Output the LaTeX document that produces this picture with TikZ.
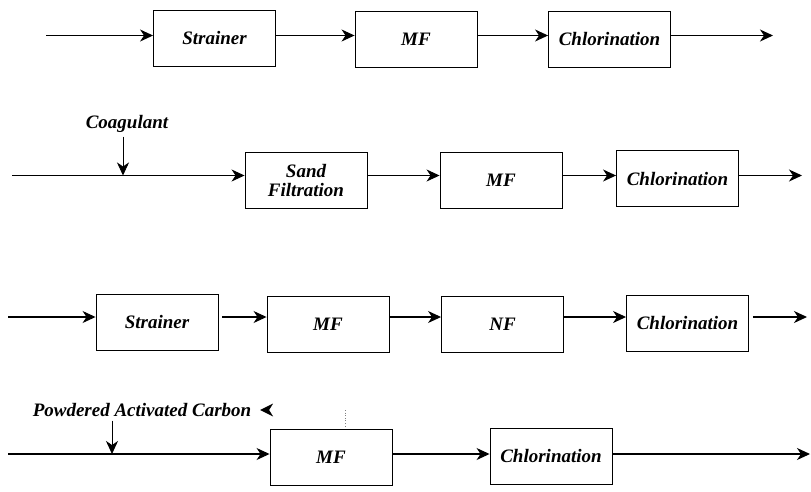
\documentclass[tikz,border=0pt]{standalone}
\usepackage{fontspec}
\setmainfont{Liberation Serif}[BoldItalicFont={Liberation Serif Bold Italic}]
\usetikzlibrary{arrows.meta}
\begin{document}
\begin{tikzpicture}[x=1pt,y=-1pt,>={Stealth[length=13pt,width=12pt,inset=4pt]},line width=1.1pt,
 font=\fontsize{19}{19}\selectfont\bfseries\itshape,
 unit/.style={draw,line width=0.9pt,minimum width=122pt,minimum height=56pt,inner sep=0pt,align=center}]
 \useasboundingbox (0,0) rectangle (811,491);
 % Dòng 1
 \coordinate (a0) at (46,35.5); \coordinate (a4) at (773,35.5);
 \node[unit] (a1) at (214.5,38.5) {Strainer};
 \node[unit] (a2) at (416,39) {MF};
 \node[unit] (a3) at (609.5,39) {Chlorination};
 \draw[->] (a0) -- (a0 -| a1.west);
 \draw[->] (a1.east |- a0) -- (a2.west |- a0);
 \draw[->] (a2.east |- a0) -- (a3.west |- a0);
 \draw[->] (a3.east |- a0) -- (a4);
 % Dòng 2
 \coordinate (b0) at (12,175.5); \coordinate (b4) at (802,175.5);
 \coordinate (b5) at (123,175.5);
 \node (coag) at (127,124) {Coagulant};
 \node[unit] (b1) at (306,180) {Sand\\Filtration};
 \node[unit] (b2) at (501,180.5) {MF};
 \node[unit] (b3) at (677.5,178.5) {Chlorination};
 \draw[->] (b0) -- (b0 -| b1.west);
 \draw[->] (b1.east |- b0) -- (b2.west |- b0);
 \draw[->] (b2.east |- b0) -- (b3.west |- b0);
 \draw[->] (b3.east |- b0) -- (b4);
 \draw[->,line width=0.9pt] (b5 |- coag.south) -- (b5);
 % Dòng 3
 \coordinate (c0) at (8,317); \coordinate (c5) at (807,317);
 \node[unit] (c1) at (157,322) {Strainer};
 \node[unit] (c2) at (328,324) {MF};
 \node[unit] (c3) at (502.5,324) {NF};
 \node[unit] (c4) at (687.5,323) {Chlorination};
 \draw[->] (c0) -- (c0 -| c1.west);
 \draw[->] ([xshift=4pt]c1.east |- c0) -- (c2.west |- c0);
 \draw[->] (c2.east |- c0) -- (c3.west |- c0);
 \draw[->] (c3.east |- c0) -- (c4.west |- c0);
 \draw[->] ([xshift=4pt]c4.east |- c0) -- (c5);
 % Dòng 4
 \coordinate (d0) at (8,454); \coordinate (d3) at (810,454);
 \coordinate (d4) at (112,454);
 \node (pac) at (142,410) {Powdered Activated Carbon};
 \fill ([xshift=5pt]pac.east) -- ++(13,-6.5) -- ++(-4,6.5) -- ++(4,6.5) -- cycle;
 \node[unit] (d1) at (331,457.5) {MF};
 \node[unit] (d2) at (551,456) {Chlorination};
 \draw[->] (d0) -- (d0 -| d1.west);
 \draw[->] (d1.east |- d0) -- (d2.west |- d0);
 \draw[->] (d2.east |- d0) -- (d3);
 \draw[->,line width=0.9pt] (d4 |- pac.south) -- (d4);
 \draw[dotted,line width=0.6pt,gray] (345,410) -- (345,428);
\end{tikzpicture}
\end{document}
